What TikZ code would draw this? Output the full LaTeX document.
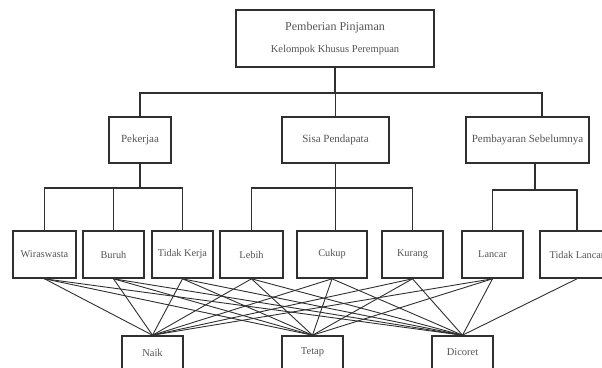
\documentclass[tikz,border=0pt]{standalone}
\usepackage{fontspec}
\setmainfont{Liberation Serif}
\usetikzlibrary{calc}
\definecolor{linecol}{HTML}{303030}
\definecolor{txtcol}{HTML}{555555}
\tikzset{
  box/.style={draw=linecol, line width=1.6pt, fill=white, inner sep=0pt, text=txtcol, align=center},
  lvltwo/.style={box, minimum height=46pt, font=\fontsize{11}{13}\selectfont},
  lvlthree/.style={box, minimum height=47pt, font=\fontsize{10.3}{12}\selectfont},
  lvlfour/.style={box, minimum height=33pt, font=\fontsize{10.5}{12}\selectfont},
  tree/.style={draw=linecol, line width=1.1pt},
  link/.style={draw=linecol, line width=0.9pt}
}
\begin{document}
\begin{tikzpicture}[x=1pt,y=-1pt]
\useasboundingbox (0,0) rectangle (602,367);
\clip (0,0) rectangle (602,367);
% top
\node[box, minimum width=198pt, minimum height=57pt] (top) at (335,38.5) {};
\node[text=txtcol, font=\fontsize{12}{14}\selectfont] (t1) at (335,28) {Pemberian Pinjaman};
\node[text=txtcol, font=\fontsize{10.5}{12}\selectfont] (t2) at (335,49.5) {Kelompok Khusus Perempuan};
% level 2
\node[lvltwo, minimum width=62pt] (pek) at (140,140) {Pekerjaa};
\node[lvltwo, minimum width=107pt] (sisa) at (335.5,140) {Sisa Pendapata};
\node[lvltwo, minimum width=123pt] (pem) at (527.5,140) {Pembayaran Sebelumnya};
% level 3
\node[lvlthree, minimum width=63pt] (wir) at (44.5,254.5) {Wiraswasta};
\node[lvlthree, minimum width=61pt] (bur) at (113.5,254.5) {Buruh};
\node[lvlthree, minimum width=61pt] (tk) at (182.5,254.5) {Tidak Kerja};
\node[lvlthree, minimum width=63pt] (leb) at (251.5,254.5) {Lebih};
\node[lvlthree, minimum width=70pt] (cuk) at (332,254.5) {Cukup};
\node[lvlthree, minimum width=61pt] (kur) at (412.5,254.5) {Kurang};
\node[lvlthree, minimum width=61pt] (lan) at (492.5,254.5) {Lancar};
\node[lvlthree, minimum width=74pt] (tl) at (577,254.5) {Tidak Lancar};
% level 4
\node[lvlfour, minimum width=61pt] (naik) at (152.5,352.5) {Naik};
\node[lvlfour, minimum width=61pt] (tet) at (312.5,352.5) {Tetap};
\node[lvlfour, minimum width=61pt] (dic) at (462.5,352.5) {Dicoret};
% tree connectors top -> level 2
\coordinate (j1) at (335,93);
\coordinate (pemT) at ($(pem.north)+(14.5,0)$);
\draw[tree] (top.south) -- (j1);
\draw[tree] (pek.north) -- (pek.north |- j1) -- (pemT |- j1) -- (pemT);
\draw[tree] (sisa.north) -- (sisa.north |- j1);
% level 2 -> level 3
\coordinate (j2) at (140,188);
\draw[tree] (pek.south) -- (j2);
\draw[tree] (wir.north) -- (wir.north |- j2) -- (tk.north |- j2) -- (tk.north);
\draw[tree] (bur.north) -- (bur.north |- j2);
\coordinate (j3) at (335.5,188);
\coordinate (cukT) at (sisa.south |- cuk.north);
\draw[tree] (sisa.south) -- (cukT);
\draw[tree] (leb.north) -- (leb.north |- j3) -- (kur.north |- j3) -- (kur.north);
\coordinate (pemB) at ($(pem.south)+(7.5,0)$);
\coordinate (j4) at (535,190);
\draw[tree] (pemB) -- (j4);
\draw[tree] (lan.north) -- (lan.north |- j4) -- (tl.north |- j4) -- (tl.north);
% level 3 -> level 4
\foreach \s in {wir,bur,tk,leb,cuk,kur,lan}{
  \draw[link] (\s.south) -- (naik.north);
  \draw[link] (\s.south) -- (tet.north);
  \draw[link] (\s.south) -- (dic.north);
}
\draw[link] (tl.south) -- (dic.north);
\end{tikzpicture}
\end{document}
